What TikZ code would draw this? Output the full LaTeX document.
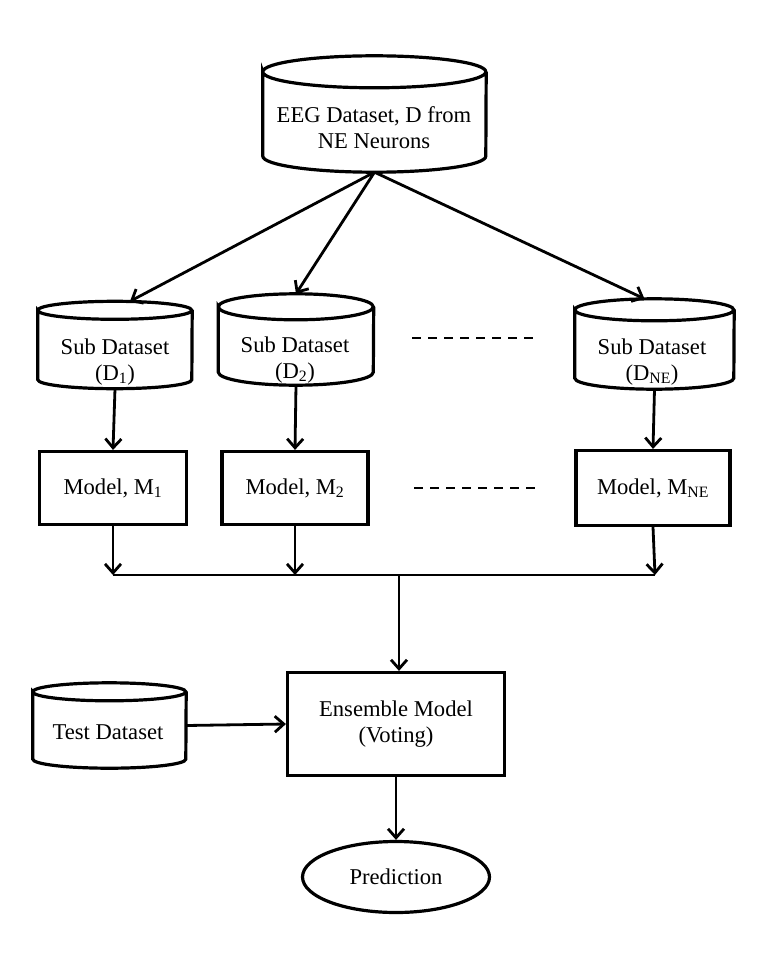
\documentclass[tikz,border=0pt]{standalone}
\usepackage{fontspec}
\setmainfont{Liberation Serif}
\usetikzlibrary{arrows.meta, positioning, shapes.geometric}

\begin{document}
\begin{tikzpicture}[
    x=1pt, y=-1pt,
    every node/.style={font=\fontsize{22.6}{26}\selectfont},
    db/.style n args={3}{
        rectangle,
        inner sep=0pt,
        minimum width={2*#1},
        minimum height=#2,
        append after command={\pgfextra{
            \draw[line width=3.2pt]
                ([yshift=-#3]\tikzlastnode.north west)
                arc[start angle=180, end angle=-180, x radius=#1, y radius=#3]
                -- ([yshift=#3]\tikzlastnode.south west)
                arc[start angle=180, end angle=360, x radius=#1, y radius=#3]
                -- ([yshift=-#3]\tikzlastnode.north east);
        }}
    },
    dbtext/.style={align=center, inner sep=0pt},
    model/.style={
        rectangle,
        draw,
        line width=3.2pt,
        align=center,
        inner sep=0pt
    },
    arrow/.style={line width=2.8pt, -{Straight Barb[length=9pt, width=16pt, line width=2.8pt]}},
    gap/.style={line width=2.2pt, dash pattern=on 9pt off 7pt}
]
\useasboundingbox (0,0) rectangle (768,960);

\node[db={111.5pt}{116pt}{16pt}] (eeg) at (374.5,114) {};
\node[dbtext] (eegt) at (374,128) {EEG Dataset, D from\\NE Neurons};
\node[db={77pt}{87pt}{9pt}] (d1) at (115,345) {};
\node[dbtext] (d1t) at (115,362) {Sub Dataset\\(D\textsubscript{1})};
\node[db={77.5pt}{91pt}{13pt}] (d2) at (296,339.5) {};
\node[dbtext] (d2t) at (295,360) {Sub Dataset\\(D\textsubscript{2})};
\node[db={79.5pt}{90pt}{11pt}] (dne) at (654.5,344) {};
\node[dbtext] (dnet) at (652,362) {Sub Dataset\\(D\textsubscript{NE})};

\node[model, minimum width=147pt, minimum height=73pt] (m1) at (113,488) {Model, M\textsubscript{1}};
\node[model, minimum width=146pt, minimum height=73pt] (m2) at (295,488) {Model, M\textsubscript{2}};
\node[model, minimum width=154pt, minimum height=75pt] (mne) at (653,488) {Model, M\textsubscript{NE}};

\node[model, minimum width=217pt, minimum height=103pt] (ens) at (396,724) {Ensemble Model\\(Voting)};
\node[db={76.5pt}{85pt}{9pt}] (test) at (109.5,725.5) {};
\node[dbtext] (testt) at (108,732) {Test Dataset};
\node[ellipse, draw, line width=3.2pt, minimum width=187pt, minimum height=71pt, inner sep=0pt] (pred) at (396,877) {Prediction};

% gaps between sub datasets
\coordinate (dl1) at (412,338);
\coordinate (dr1) at (537,338);
\coordinate (dl2) at (414,488);
\coordinate (dr2) at (539,488);
\draw[gap] (dl1) -- (dr1);
\draw[gap] (dl2) -- (dr2);

\draw[arrow] (eeg.south) -- ([xshift=15pt]d1.north);
\draw[arrow] (eeg.south) -- (d2.north);
\draw[arrow] (eeg.south) -- ([xshift=-10pt]dne.north);

\draw[arrow] (d1.south) -- (m1.north);
\draw[arrow] (d2.south) -- (m2.north);
\draw[arrow] (dne.south) -- (mne.north);

% bus to ensemble
\coordinate (b1) at (113,575);
\coordinate (b2) at (295,575);
\coordinate (bne) at (655,575);
\draw[arrow] (m1.south) -- (b1);
\draw[arrow] (m2.south) -- (b2);
\draw[arrow] (mne.south) -- (bne);
\draw[line width=2.8pt] (b1) -- (bne);
\draw[arrow] ([xshift=3pt]ens.north |- b1) -- ([xshift=3pt]ens.north);

\draw[arrow] (test.east) -- (ens.west);
\draw[arrow] (ens.south) -- (pred.north);

\end{tikzpicture}
\end{document}
